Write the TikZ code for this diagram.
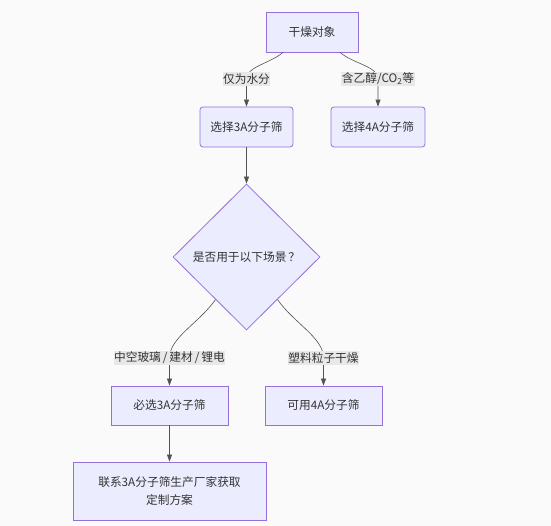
\documentclass[tikz,border=0pt]{standalone}
\usepackage{fontspec}
\setmainfont{Noto Sans CJK SC}
\usetikzlibrary{shapes.geometric,arrows.meta,calc}
\definecolor{nodefill}{HTML}{ECECFF}
\definecolor{nodeline}{HTML}{9370DB}
\definecolor{txt}{HTML}{333333}
\definecolor{lblbg}{HTML}{E8E8E8}
\definecolor{bgc}{HTML}{FAFAFA}
\begin{document}
\begin{tikzpicture}[x=1pt,y=-1pt,
  box/.style={draw=nodeline, fill=nodefill, line width=0.8pt, text=txt,
    font=\fontsize{11.7}{17.5}\selectfont, inner sep=0pt, align=center},
  rbox/.style={box, rounded corners=3pt},
  dia/.style={diamond, aspect=1, draw=nodeline, fill=nodefill, line width=0.8pt, text=txt,
    font=\fontsize{11.7}{17.5}\selectfont, inner sep=0pt, minimum width=147pt, minimum height=146pt},
  lbl/.style={fill=lblbg, text=txt, font=\fontsize{11.7}{14}\selectfont, inner xsep=0.5pt, inner ysep=1.5pt},
  edge/.style={draw=txt!85, line width=0.6pt, -{Triangle[length=7pt,width=5pt]}},
  curvy/.style={out looseness=1.0, in looseness=0.7}]
\fill[bgc] (0,0) rectangle (551,526);
\useasboundingbox (0,0) rectangle (551,526);

\node[box, minimum width=92pt, minimum height=40pt] (top) at (312,32) {干燥对象};
\node[rbox, minimum width=93pt, minimum height=40pt] (s3) at (246.5,127) {选择3A分子筛};
\node[rbox, minimum width=94pt, minimum height=40pt] (s4) at (378,127) {选择4A分子筛};
\node[dia] (q) at (246.5,257) {是否用于以下场景\,？};
\node[box, minimum width=117pt, minimum height=39pt] (b1) at (169.5,405.5) {必选3A分子筛};
\node[box, minimum width=117pt, minimum height=39pt] (b2) at (323.5,405.5) {可用4A分子筛};
\node[box, minimum width=193pt, minimum height=58pt] (fin) at (169.5,491) {联系3A分子筛生产厂家获取\\定制方案};

\coordinate (c1) at (246.5,79);
\coordinate (c2) at (378,79);
\coordinate (c3) at (169.5,358);
\coordinate (c4) at (323.5,358);

\draw[edge] ([xshift=-29pt]top.south) to[out=-140,in=90,curvy] (c1) -- (s3.north);
\draw[edge] ([xshift=28pt]top.south) to[out=-40,in=90,curvy] (c2) -- (s4.north);
\draw[edge] (s3.south) -- (q.north);
\draw[edge] ($(q.west)!0.58!(q.south)$) to[out=-125,in=90,curvy] (c3) -- (b1.north);
\draw[edge] ($(q.east)!0.58!(q.south)$) to[out=-55,in=90,curvy] (c4) -- (b2.north);
\draw[edge] (b1.south) -- (fin.north);

\node[lbl] (l1) at (c1) {仅为水分};
\node[lbl] (l2) at (c2) {含乙醇/CO\textsubscript{2}等};
\node[lbl] (l3) at (c3) {中空玻璃\hspace{2pt}/\hspace{2pt}建材\hspace{2pt}/\hspace{2pt}锂电};
\node[lbl] (l4) at (c4) {塑料粒子干燥};
\end{tikzpicture}
\end{document}
